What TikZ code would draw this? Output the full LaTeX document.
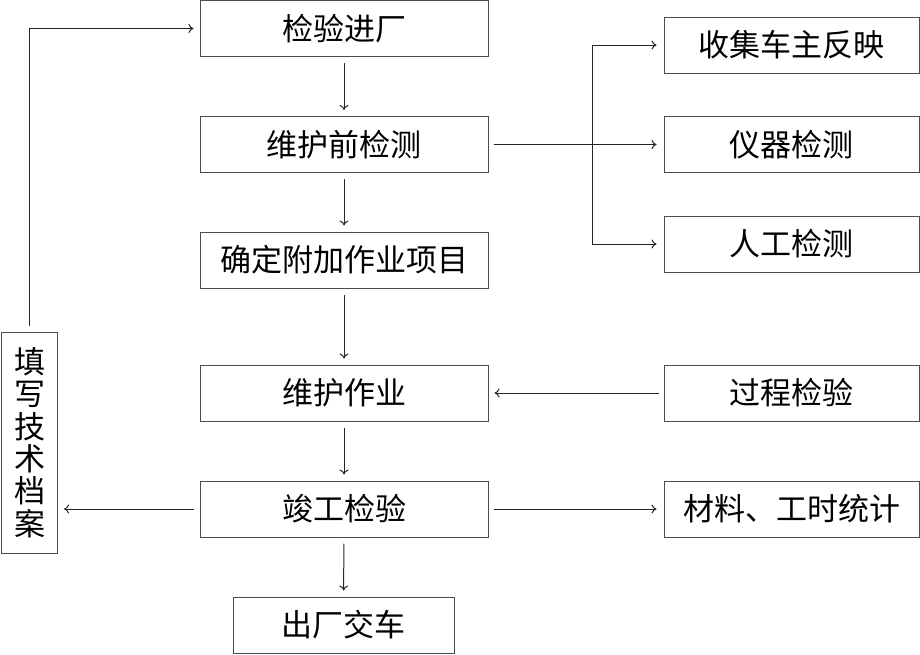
\documentclass[tikz,border=0pt]{standalone}
\usepackage{fontspec}
\newfontfamily\cjk{Noto Sans CJK SC}
\usetikzlibrary{arrows.meta}

\begin{document}
\begin{tikzpicture}[x=1pt,y=-1pt,
  box/.style={draw=black!70, line width=1pt, rectangle, inner sep=0pt,
    minimum width=288pt, minimum height=56pt,
    font=\cjk\fontsize{31}{32.4}\selectfont},
  sidebox/.style={box, minimum width=255pt},
  flow/.style={-{To[length=5pt,width=9pt]}, line width=1pt, black!85,
    shorten <=6pt, shorten >=6pt}]

\useasboundingbox (0,0) rectangle (920,654);

% main column
\node[box] (jyjc) at (344,28.5) {检验进厂};
\node[box] (whqjc) at (344,144.5) {维护前检测};
\node[box] (qdfj) at (344,260) {确定附加作业项目};
\node[box] (whzy) at (344,393) {维护作业};
\node[box] (jgjy) at (344,509) {竣工检验};
\node[box, minimum width=221pt] (ccjc) at (343.5,625) {出厂交车};

% right column
\node[sidebox] (sjcz) at (791.5,45) {收集车主反映};
\node[sidebox] (yqjc) at (791.5,144.5) {仪器检测};
\node[sidebox] (rgjc) at (791.5,244) {人工检测};
\node[sidebox] (gcjy) at (791.5,393) {过程检验};
\node[sidebox] (clgs) at (791.5,509) {材料、工时统计};

% left box
\node[box, minimum width=56pt, minimum height=221pt, align=center] (txda) at (29.5,442.5)
  {填\\写\\技\\术\\档\\案};

\coordinate (fork) at (592,144.5);
\coordinate (back) at (29.5,28.5);

\draw[flow] (jyjc) -- (whqjc);
\draw[flow] (whqjc) -- (qdfj);
\draw[flow] (qdfj) -- (whzy);
\draw[flow] (whzy) -- (jgjy);
\draw[flow] (jgjy) -- (ccjc);

\draw[flow, shorten >=7pt, shorten <=5pt] (whqjc) -- (yqjc);
\draw[flow, shorten <=0pt, shorten >=7pt] (fork) |- (sjcz);
\draw[flow, shorten <=0pt, shorten >=7pt] (fork) |- (rgjc);

\draw[flow, shorten <=5pt] (gcjy) -- (whzy);
\draw[flow, shorten <=5pt, shorten >=7pt] (jgjy) -- (clgs);
\draw[flow] (jgjy.west) -- (txda.east |- jgjy.west);
\draw[flow] (txda) -- (back) -- (jyjc);

\end{tikzpicture}
\end{document}
